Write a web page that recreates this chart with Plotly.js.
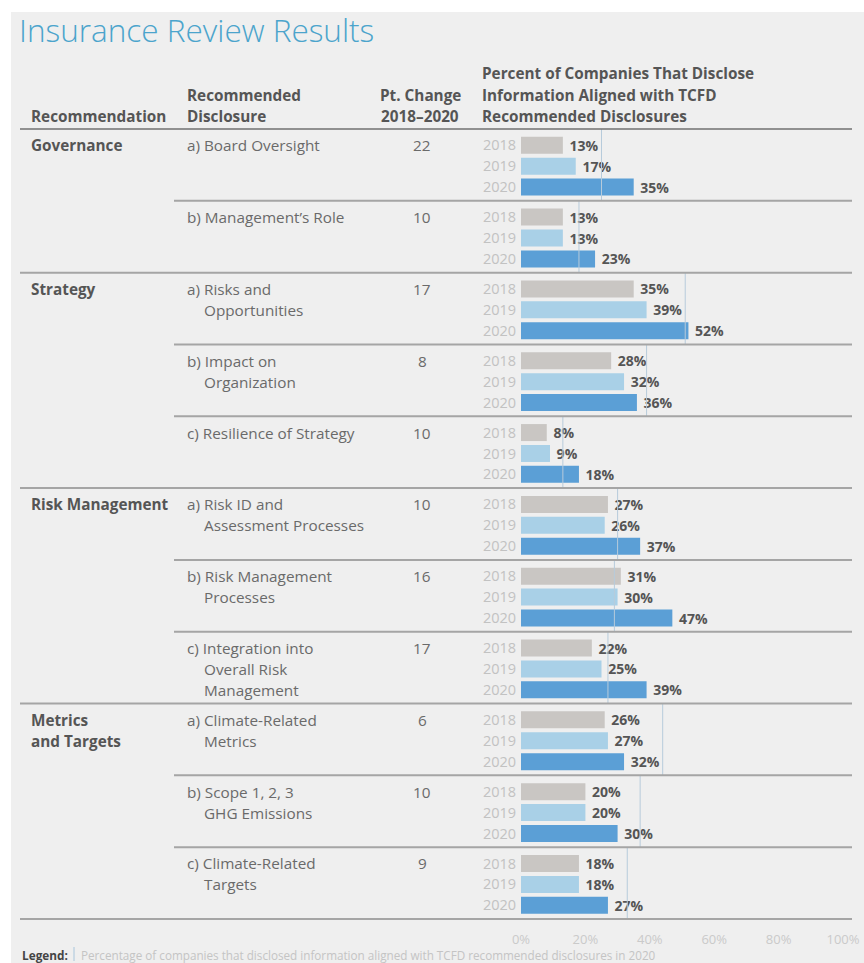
<!DOCTYPE html>
<html>
<head>
<meta charset="utf-8">
<script src="https://cdn.plot.ly/plotly-3.0.1.min.js"></script>
<style>
  html, body { margin: 0; padding: 0; background: #ffffff; }
  #chart { width: 864px; height: 963px; }
</style>
</head>
<body>
<div id="chart"></div>
<script>
// ---------------- DATA ----------------
const recommendations = [['Governance'], ['Strategy'], ['Risk Management'], ['Metrics', 'and Targets']];
const disclosuresPerRecommendation = [2, 3, 3, 3];
const disclosures = [
  ['a) Board Oversight'],
  ['b) Management\u2019s Role'],
  ['a) Risks and', 'Opportunities'],
  ['b) Impact on', 'Organization'],
  ['c) Resilience of Strategy'],
  ['a) Risk ID and', 'Assessment Processes'],
  ['b) Risk Management', 'Processes'],
  ['c) Integration into', 'Overall Risk', 'Management'],
  ['a) Climate-Related', 'Metrics'],
  ['b) Scope 1, 2, 3', 'GHG Emissions'],
  ['c) Climate-Related', 'Targets']
];
const ptChange = [22, 10, 17, 8, 10, 10, 16, 17, 6, 10, 9];
const years = ['2018', '2019', '2020'];
const pct2018 = [13, 13, 35, 28, 8, 27, 31, 22, 26, 20, 18];
const pct2019 = [17, 13, 39, 32, 9, 26, 30, 25, 27, 20, 18];
const pct2020 = [35, 23, 52, 36, 18, 37, 47, 39, 32, 30, 27];
// all companies reviewed, 2020 (reference lines)
const allCompanies2020 = [25, 18, 51, 39, 13, 30, 29, 27, 44, 37, 33];
const xTicks = [0, 20, 40, 60, 80, 100];

const title = 'Insurance Review Results';
const headerRecommendation = ['Recommendation'];
const headerDisclosure = ['Recommended', 'Disclosure'];
const headerChange = ['Pt. Change', '2018\u20132020'];
const headerPercent = ['Percent of Companies That Disclose', 'Information Aligned with TCFD', 'Recommended Disclosures'];
const legendLabel = 'Legend:';
const legendText = 'Percentage of companies that disclosed information aligned with TCFD recommended disclosures in 2020';

// ---------------- LAYOUT HELPERS ----------------
const W = 864, H = 963;
const TOP = 129, BOTTOM = 919;
const N = disclosures.length;
const GROUP_H = (BOTTOM - TOP) / N;
const ROW0 = 16.3 / GROUP_H;
const ROWSTEP = 20.9 / GROUP_H;
const BAR_W = 17 / GROUP_H;
const px = x => x / W;
const py = y => 1 - y / H;
const rowPos = (i, j) => i + ROW0 + j * ROWSTEP;

const FONT = 'Open Sans, Noto Sans, DejaVu Sans, sans-serif';
const DARK = '#555555';
const MID = '#6a6a6a';
const FS = 15.3;
const colors = ['#c9c6c3', '#a9d0e7', '#5b9fd6'];
const series = [pct2018, pct2019, pct2020];

// ---------------- TRACES ----------------
const traces = series.map((vals, j) => ({
  type: 'bar',
  orientation: 'h',
  name: years[j],
  x: vals,
  y: vals.map((v, i) => rowPos(i, j)),
  width: BAR_W,
  marker: { color: colors[j], line: { width: 0 } },
  text: vals.map(v => '\u00a0' + v + '%'),
  textposition: 'outside',
  constraintext: 'none',
  cliponaxis: false,
  textfont: { family: FONT, size: 14, color: DARK, weight: 700 },
  hoverinfo: 'skip',
  showlegend: false
}));

const refX = [], refY = [];
allCompanies2020.forEach((v, i) => { refX.push(v, v, null); refY.push(i, i + 1, null); });
traces.push({
  type: 'scatter', mode: 'lines', x: refX, y: refY,
  line: { color: '#b7cbdb', width: 1 },
  hoverinfo: 'skip', showlegend: false
});

// ---------------- SHAPES ----------------
const shapes = [];
shapes.push({ type: 'rect', xref: 'paper', yref: 'paper', x0: px(11), x1: 1, y0: 0, y1: py(12),
  fillcolor: '#efefef', line: { width: 0 }, layer: 'below' });
// header rule
shapes.push({ type: 'line', xref: 'paper', yref: 'paper', x0: px(20), x1: px(852), y0: py(TOP), y1: py(TOP),
  line: { color: '#707070', width: 1.5 } });
const groupStarts = new Set();
let acc = 0;
disclosuresPerRecommendation.forEach(c => { groupStarts.add(acc); acc += c; });
for (let k = 1; k <= N; k++) {
  const full = groupStarts.has(k) || k === N;
  const yy = py(TOP + k * GROUP_H);
  shapes.push({ type: 'line', xref: 'paper', yref: 'paper', x0: px(full ? 20 : 174), x1: px(852), y0: yy, y1: yy,
    line: { color: '#a5a5a5', width: 2 } });
}
// legend swatch
shapes.push({ type: 'line', xref: 'paper', yref: 'paper', x0: px(74), x1: px(74), y0: py(947), y1: py(961),
  line: { color: '#a9c6dc', width: 1 } });

// ---------------- ANNOTATIONS ----------------
const ann = [];
function addText(text, x, y, opts) {
  ann.push(Object.assign({ text: text, x: x, y: y, xref: 'paper', yref: 'paper', xanchor: 'left', yanchor: 'middle',
    showarrow: false, font: { family: FONT, size: FS, color: DARK } }, opts || {}));
}
const BOLD = { family: FONT, size: FS, color: DARK, weight: 700 };
// headers
const LH = 21.3;
headerRecommendation.forEach((t, k) => addText(t, px(29), py(116), { font: BOLD }));
headerDisclosure.forEach((t, k) => addText(t, px(185), py(95 + k * LH), { font: BOLD }));
headerChange.forEach((t, k) => addText(t, px(420), py(95 + k * LH), { xanchor: 'center', font: BOLD }));
headerPercent.forEach((t, k) => addText(t, px(480), py(73.5 + k * LH), { font: BOLD }));

// recommendation names
let start = 0;
recommendations.forEach((lines, r) => {
  lines.forEach((t, j) => ann.push({ text: t, x: px(29), y: rowPos(start, j), xref: 'paper', yref: 'y',
    xanchor: 'left', yanchor: 'middle', showarrow: false, font: BOLD }));
  start += disclosuresPerRecommendation[r];
});
// disclosures & pt change
disclosures.forEach((lines, i) => {
  lines.forEach((t, j) => ann.push({ text: t, x: px(j === 0 ? 185 : 202), y: rowPos(i, j), xref: 'paper', yref: 'y',
    xanchor: 'left', yanchor: 'middle', showarrow: false,
    font: { family: FONT, size: FS, color: MID } }));
  ann.push({ text: String(ptChange[i]), x: px(422), y: rowPos(i, 0), xref: 'paper', yref: 'y',
    xanchor: 'center', yanchor: 'middle', showarrow: false,
    font: { family: FONT, size: FS, color: MID } });
});
// legend
addText(legendLabel, px(20), py(954.5), { font: { family: FONT, size: 11.8, color: '#444444', weight: 700 } });
addText(legendText, px(79), py(954.5), { font: { family: FONT, size: 11.7, color: '#c4c4c4' } });

// ---------------- LAYOUT ----------------
const tickVals = [], tickText = [];
for (let i = 0; i < N; i++) for (let j = 0; j < 3; j++) { tickVals.push(rowPos(i, j)); tickText.push(years[j]); }

const layout = {
  width: W, height: H,
  margin: { l: 0, r: 0, t: 0, b: 0, pad: 0 },
  paper_bgcolor: '#ffffff',
  plot_bgcolor: 'rgba(0,0,0,0)',
  barmode: 'overlay',
  showlegend: false,
  title: { text: title, x: px(19), xanchor: 'left', xref: 'paper', y: py(31), yanchor: 'middle', yref: 'paper',
    font: { family: FONT, size: 31.5, color: '#4ba4cc', weight: 300 } },
  xaxis: {
    domain: [px(521), px(843)], range: [0, 100], fixedrange: true,
    showgrid: false, zeroline: false, showline: false,
    tickmode: 'array', tickvals: xTicks, ticktext: xTicks.map(v => v + '%'),
    ticks: 'outside', ticklen: 8, tickcolor: 'rgba(0,0,0,0)',
    tickfont: { family: FONT, size: 13, color: '#cacaca' }
  },
  yaxis: {
    domain: [py(BOTTOM), py(TOP)], range: [N, 0], autorange: false, fixedrange: true,
    showgrid: false, zeroline: false, showline: false,
    tickmode: 'array', tickvals: tickVals, ticktext: tickText,
    ticks: 'outside', ticklen: 1, tickcolor: 'rgba(0,0,0,0)',
    tickfont: { family: FONT, size: 14.5, color: '#c2c2c2' }
  },
  shapes: shapes,
  annotations: ann
};

Plotly.newPlot('chart', traces, layout, { displayModeBar: false, staticPlot: true });
</script>
</body>
</html>
